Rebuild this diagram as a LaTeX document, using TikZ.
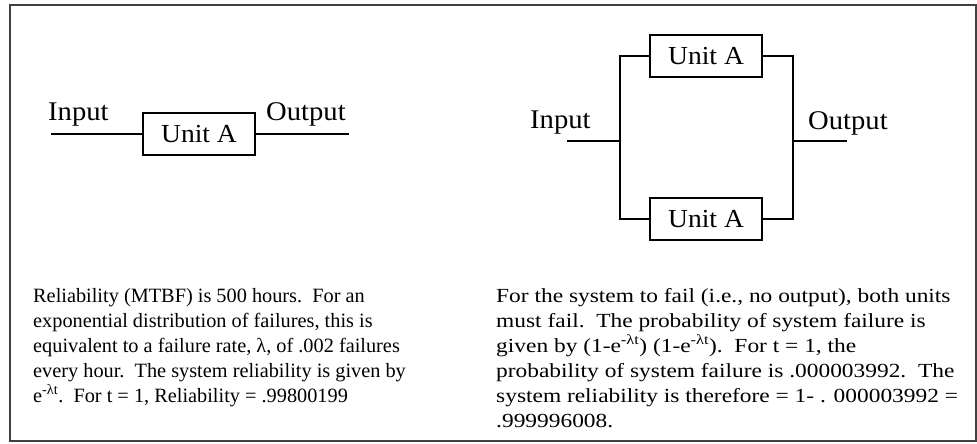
\documentclass[tikz,border=0pt]{standalone}
\usepackage{fontspec}
\setmainfont{Liberation Serif}
\newfontfamily\widefont[FakeStretch=1.17]{Liberation Serif}
\newfontfamily\lblfont[FakeStretch=1.06]{Liberation Serif}
\begin{document}
\begin{tikzpicture}[x=1pt,y=-1pt,
  unitbox/.style={draw, line width=1.8pt, minimum width=112pt, minimum height=42pt, inner sep=0pt, font=\lblfont\fontsize{26}{26}\selectfont},
  wire/.style={line width=1.6pt},
  lbl/.style={font=\lblfont\fontsize{27}{27}\selectfont, inner sep=0pt, anchor=base west},
  paraL/.style={font=\fontsize{20.3}{25}\selectfont, align=left, inner sep=0pt, anchor=base west},
  paraR/.style={font=\widefont\fontsize{20}{25}\selectfont, align=left, inner sep=0pt, anchor=base west}]
\useasboundingbox (0,0) rectangle (977,444);
\draw[line width=1.8pt, draw=black!75] (10,5) rectangle (976,441);
% left diagram
\node[unitbox] (ua) at (199,134) {Unit A};
\coordinate (inL) at (51,134);
\coordinate (outL) at (349,134);
\draw[wire] (inL) -- (ua.west);
\draw[wire] (ua.east) -- (outL);
\node[lbl] (inLt) at (48,120) {Input};
\node[lbl] (outLt) at (266,120) {Output};
% right diagram
\node[unitbox] (ub) at (706,56) {Unit A};
\node[unitbox] (uc) at (706,219) {Unit A};
\coordinate (jl) at (620,141);
\coordinate (jr) at (793,141);
\coordinate (inR) at (567,141);
\coordinate (outR) at (847,141);
\draw[wire] (inR) -- (jl);
\draw[wire] (jr) -- (outR);
\draw[wire] (ub.west) -| (jl) |- (uc.west);
\draw[wire] (ub.east) -| (jr) |- (uc.east);
\node[lbl] (inRt) at (530,128) {Input};
\node[lbl] (outRt) at (808,129) {Output};
% texts (anchor is the baseline of the last line)
\node[paraL] (pl) at (33,402) {Reliability (MTBF) is 500 hours.\ \ For an\\
exponential distribution of failures, this is\\
equivalent to a failure rate, λ, of .002 failures\\
every hour.\ \ The system reliability is given by\\
e\textsuperscript{-λt}.\ \ For t = 1, Reliability = .99800199};
\node[paraR] (pr) at (496,427) {For the system to fail (i.e., no output), both units\\
must fail.\ \ The probability of system failure is\\
given by (1-e\textsuperscript{-λt}) (1-e\textsuperscript{-λt}).\ \ For t = 1, the\\
probability of system failure is .000003992.\ \ The\\
system reliability is therefore = 1- . 000003992 =\\
.999996008.};
\end{tikzpicture}
\end{document}
